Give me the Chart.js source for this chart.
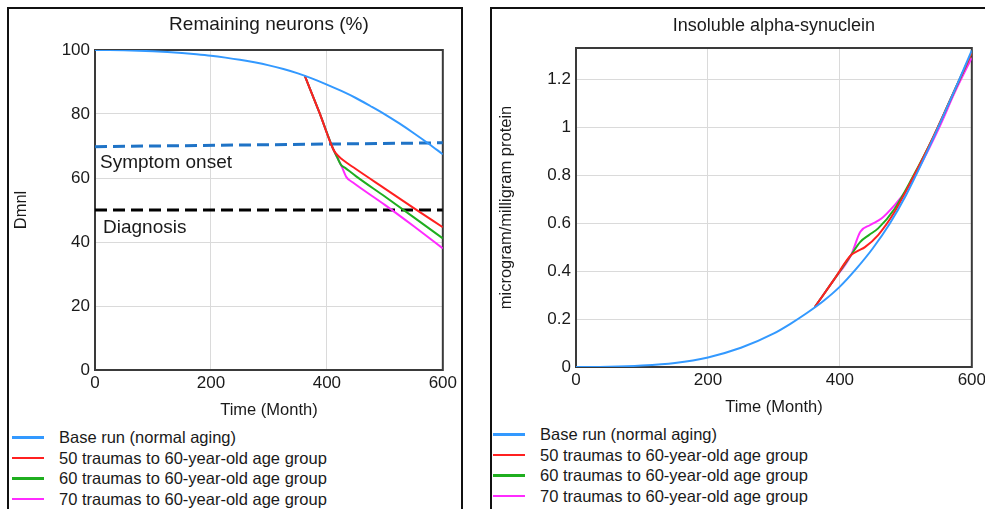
<!DOCTYPE html>
<html>
<head>
<meta charset="utf-8">
<script src="https://cdn.jsdelivr.net/npm/chart.js@4.4.0/dist/chart.umd.min.js"></script>
<style>
  html, body { margin: 0; padding: 0; background: #fff; width: 985px; height: 509px; overflow: hidden; position: relative;
               font-family: "Liberation Sans", Arial, sans-serif; color: #1a1a1a; }
  .panel { position: absolute; top: 7px; height: 530px; border: 2px solid #111; box-sizing: border-box; }
  #panelLeft  { left: 7px;   width: 456px; }
  #panelRight { left: 490px; width: 530px; }
  canvas { position: absolute; }
  #neurons { left: 10px;  top: 10px; }
  #synuclein { left: 493px; top: 10px; }
  .legend { position: absolute; font-size: 16.5px; }
  .legend .row { position: absolute; left: 0; height: 20px; line-height: 20px; white-space: nowrap; }
  .legend .swatch { position: absolute; left: 0; top: 9px; width: 32px; height: 2.5px; }
  .legend .text { position: absolute; top: 0; }
</style>
</head>
<body>
<div class="panel" id="panelLeft"></div>
<div class="panel" id="panelRight"></div>
<canvas id="neurons" width="450" height="415"></canvas>
<canvas id="synuclein" width="496" height="412"></canvas>
<div class="legend" id="legendLeft" style="left:12px; top:0;"></div>
<div class="legend" id="legendRight" style="left:493px; top:0;"></div>

<script>
// Series shared by both panels
const seriesNames = [
  'Base run (normal aging)',
  '50 traumas to 60-year-old age group',
  '60 traumas to 60-year-old age group',
  '70 traumas to 60-year-old age group'
];
const COLORS = ['#3399ff', '#ff2020', '#1fae1f', '#ff2bff'];

// --- Remaining neurons (%) ---
const baseMonths = [0, 25, 50, 75, 100, 125, 150, 175, 200, 225, 250, 275, 300,
                    325, 350, 375, 400, 425, 450, 475, 500, 525, 550, 575, 600];
const neuronBase = [100, 99.97, 99.9, 99.78, 99.6, 99.36, 99.05, 98.66, 98.2, 97.62, 96.95, 96.15, 95.2,
                    94.05, 92.7, 91.05, 89.2, 87.2, 85.0, 82.5, 79.9, 77.05, 74.0, 70.8, 67.4];
const neuron50Months = [362, 387, 411, 416, 425, 450, 500, 550, 600];
const neuron50       = [91.9, 80.5, 69.0, 67.6, 66.0, 62.8, 56.7, 50.6, 44.6];
const neuron60Months = [362, 387, 411, 418, 424, 432, 450, 500, 550, 600];
const neuron60       = [91.9, 80.5, 69.0, 66.4, 64.2, 63.1, 60.6, 54.2, 47.7, 41.1];
const neuron70Months = [362, 387, 411, 418, 426, 434, 445, 500, 550, 600];
const neuron70       = [91.9, 80.5, 69.0, 66.4, 63.4, 60.2, 58.6, 51.6, 44.9, 38.0];
const refMonths      = [0, 600];
const onsetLevel     = [69.8, 71.0];
const diagnosisLevel = [50, 50];

// --- Insoluble alpha-synuclein ---
const synBaseMonths = [0, 50, 100, 150, 200, 250, 300, 325, 350, 375, 400, 425, 450, 475, 500, 525, 550, 575, 600];
const synBase       = [0, 0.001, 0.006, 0.017, 0.04, 0.08, 0.14, 0.18, 0.225, 0.275, 0.335, 0.41, 0.495,
                       0.595, 0.715, 0.855, 1.005, 1.16, 1.32];
const syn50Months   = [362, 390, 417, 428, 438, 458, 483, 510, 540, 570, 600];
const syn50         = [0.25, 0.36, 0.467, 0.485, 0.50, 0.55, 0.647, 0.785, 0.95, 1.13, 1.31];
const syn60Months   = [362, 390, 417, 431, 444, 458, 483, 510, 540, 570, 600];
const syn60         = [0.25, 0.36, 0.467, 0.522, 0.55, 0.578, 0.66, 0.79, 0.95, 1.13, 1.31];
const syn70Months   = [362, 390, 417, 431, 446, 463, 483, 499, 520, 550, 575, 600];
const syn70         = [0.25, 0.36, 0.467, 0.564, 0.592, 0.619, 0.675, 0.73, 0.83, 0.995, 1.15, 1.29];

Chart.defaults.font.family = '"Liberation Sans", Arial, sans-serif';
Chart.defaults.color = '#1a1a1a';

function pts(xs, ys) {
  return xs.map((x, i) => ({ x, y: ys[i] }));
}

function curve(i, xs, ys) {
  return {
    label: seriesNames[i],
    data: pts(xs, ys),
    borderColor: COLORS[i],
    borderWidth: 2,
    pointRadius: 0,
    fill: false,
    cubicInterpolationMode: 'monotone',
    order: i
  };
}

function refLine(label, ys, color) {
  return {
    label,
    data: pts(refMonths, ys),
    borderColor: color,
    borderWidth: 3,
    borderDash: [12, 6],
    pointRadius: 0,
    fill: false,
    tension: 0,
    order: 5
  };
}

// box around the plotting area
const plotFrame = {
  id: 'plotFrame',
  beforeDatasetsDraw(chart) {
    const { ctx, chartArea: a } = chart;
    ctx.save();
    ctx.strokeStyle = '#3a3a3a';
    ctx.lineWidth = 2;
    ctx.strokeRect(a.left, a.top, a.right - a.left, a.bottom - a.top);
    ctx.restore();
  }
};

// captions under the threshold lines
const refText = {
  id: 'refText',
  afterDatasetsDraw(chart, args, opts) {
    if (!opts.items) return;
    const { ctx, chartArea, scales } = chart;
    ctx.save();
    ctx.font = '19px "Liberation Sans", Arial, sans-serif';
    ctx.fillStyle = '#1a1a1a';
    ctx.textBaseline = 'middle';
    opts.items.forEach(it => {
      ctx.fillText(it.text, chartArea.left + it.dx, scales.y.getPixelForValue(it.y));
    });
    ctx.restore();
  }
};

function scalesFor(yMax, yStep, yTitle, yWidth, yTitlePad) {
  const grid = { color: '#dadada', drawTicks: false };
  return {
    x: {
      type: 'linear', min: 0, max: 600,
      ticks: { stepSize: 200, padding: 3, maxRotation: 0, font: { size: 17 } },
      grid, border: { display: false },
      title: { display: true, text: 'Time (Month)', font: { size: 16.5 }, padding: { top: 0, bottom: 5 } },
      afterFit: s => { s.height = 55; }
    },
    y: {
      min: 0, max: yMax,
      ticks: { stepSize: yStep, padding: 5, includeBounds: false, font: { size: 17 },
               callback: v => String(+v.toFixed(2)) },
      grid, border: { display: false },
      title: { display: true, text: yTitle, font: { size: 16.5 }, padding: { top: yTitlePad, bottom: 0 } },
      afterFit: s => { s.width = yWidth; }
    }
  };
}

new Chart(document.getElementById('neurons'), {
  type: 'line',
  data: {
    datasets: [
      curve(0, baseMonths, neuronBase),
      curve(1, neuron50Months, neuron50),
      curve(2, neuron60Months, neuron60),
      curve(3, neuron70Months, neuron70),
      refLine('Symptom onset', onsetLevel, '#1f73c6'),
      refLine('Diagnosis', diagnosisLevel, '#000000')
    ]
  },
  options: {
    responsive: false,
    animation: false,
    events: [],
    layout: { padding: { left: 0, right: 15, top: 0, bottom: 0 } },
    plugins: {
      legend: { display: false },
      tooltip: { enabled: false },
      title: { display: true, text: 'Remaining neurons (%)', fullSize: false,
               font: { size: 19, weight: 'normal' }, padding: { top: 3.6, bottom: 13.6 } },
      refText: { items: [
        { text: 'Symptom onset', dx: 5, y: 64.7 },
        { text: 'Diagnosis', dx: 8, y: 44.4 }
      ] }
    },
    scales: scalesFor(100, 20, 'Dmnl', 85, 2)
  },
  plugins: [plotFrame, refText]
});

new Chart(document.getElementById('synuclein'), {
  type: 'line',
  data: {
    datasets: [
      curve(0, synBaseMonths, synBase),
      curve(1, syn50Months, syn50),
      curve(2, syn60Months, syn60),
      curve(3, syn70Months, syn70)
    ]
  },
  options: {
    responsive: false,
    animation: false,
    events: [],
    layout: { padding: { left: 0, right: 15, top: 0, bottom: 0 } },
    plugins: {
      legend: { display: false },
      tooltip: { enabled: false },
      title: { display: true, text: 'Insoluble alpha-synuclein', fullSize: false,
               font: { size: 18, weight: 'normal' }, padding: { top: 5.2, bottom: 11.2 } }
    },
    scales: scalesFor(1.33, 0.2, 'microgram/milligram protein', 83, 4)
  },
  plugins: [plotFrame]
});

// legends below each panel
function buildLegend(id, rowCenters) {
  const box = document.getElementById(id);
  seriesNames.forEach((name, i) => {
    const row = document.createElement('div');
    row.className = 'row';
    row.style.top = (rowCenters[i] - 10) + 'px';
    const sw = document.createElement('span');
    sw.className = 'swatch';
    sw.style.background = COLORS[i];
    const tx = document.createElement('span');
    tx.className = 'text';
    tx.style.left = '47px';
    tx.textContent = name;
    row.appendChild(sw);
    row.appendChild(tx);
    box.appendChild(row);
  });
}
buildLegend('legendLeft', [437, 457.5, 478, 498.5]);
buildLegend('legendRight', [434, 454.5, 475, 495.5]);
</script>
</body>
</html>
